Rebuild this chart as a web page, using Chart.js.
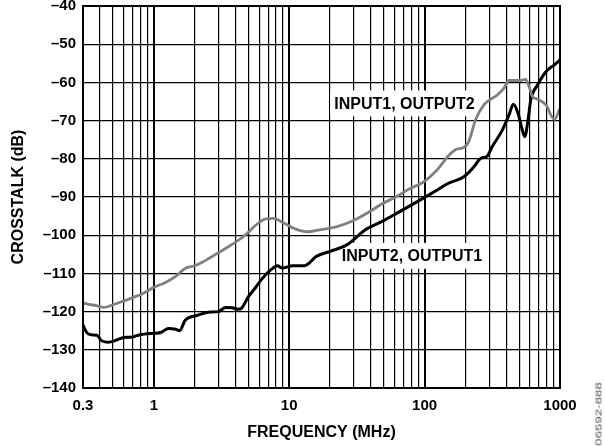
<!DOCTYPE html>
<html>
<head>
<meta charset="utf-8">
<script src="https://cdn.jsdelivr.net/npm/chart.js@4/dist/chart.umd.min.js"></script>
<style>
  html, body { margin: 0; padding: 0; background: #fff; }
  #wrap { position: relative; width: 605px; height: 446px; }
  #code {
    position: absolute; left: 598px; top: 414px;
    font: 9.5px "Liberation Sans", Arial, sans-serif; color: #555;
    white-space: nowrap;
    transform: translate(-50%, -50%) rotate(-90deg) scaleX(1.4);
  }
</style>
</head>
<body>
<div id="wrap">
  <canvas id="chart" width="605" height="446"></canvas>
  <div id="code">06592-888</div>
</div>
<script>
// INPUT1, OUTPUT2 (grey trace)
const freqIn1Out2 = [0.3, 0.33, 0.37, 0.43, 0.5, 0.59, 0.7, 0.8, 0.9, 1.0, 1.2, 1.45, 1.7, 2.0, 2.3, 2.6, 3.0, 3.6, 4.5, 5.0, 5.65, 6.7, 7.73, 8.9, 11.2, 13.7, 16.7, 22.2, 29.6, 39.4, 49, 62, 78, 98, 123, 150, 169, 195, 212, 238, 274, 344, 386, 420, 513, 558, 591, 627, 683, 787, 908, 1000];
const xtalkIn1Out2 = [-117.7, -118.1, -118.4, -118.9, -118.2, -117.3, -116.3, -115.5, -114.6, -113.6, -112.5, -110.8, -108.7, -108.0, -107.0, -105.9, -104.6, -102.9, -100.6, -99.2, -97.4, -95.7, -95.6, -96.6, -98.4, -99.1, -98.6, -97.8, -96.2, -93.8, -91.7, -89.9, -87.8, -86.1, -83.0, -79.2, -77.6, -77.0, -75.5, -69.8, -65.9, -63.3, -61.5, -59.5, -59.5, -59.2, -61.1, -63.7, -64.4, -65.9, -69.7, -66.8];

// INPUT2, OUTPUT1 (black trace)
const freqIn2Out1 = [0.3, 0.32, 0.35, 0.38, 0.41, 0.46, 0.5, 0.55, 0.6, 0.67, 0.75, 0.81, 0.9, 1.0, 1.14, 1.28, 1.45, 1.55, 1.71, 2.1, 2.5, 3.0, 3.4, 3.8, 4.2, 4.45, 5.0, 5.7, 6.2, 7.3, 8.2, 8.9, 10.6, 12.9, 13.7, 15.8, 19.8, 26.4, 37.2, 49, 62, 98, 130, 150, 195, 231, 259, 290, 316, 375, 420, 453, 490, 519, 549, 581, 608, 682, 787, 908, 1000];
const xtalkIn2Out1 = [-123.5, -125.5, -126.1, -126.2, -127.6, -128.0, -127.8, -127.2, -126.8, -126.7, -126.3, -126.0, -125.8, -125.7, -125.4, -124.4, -124.6, -125.0, -122.2, -121.0, -120.2, -120.0, -118.9, -119.0, -119.4, -119.1, -116.1, -113.5, -111.7, -109.1, -108.0, -108.6, -108.0, -108.0, -107.6, -105.6, -104.3, -102.6, -98.4, -96.3, -94.3, -90.3, -87.7, -86.4, -84.7, -82.1, -79.9, -79.3, -76.8, -72.5, -68.5, -65.7, -68.1, -71.6, -74.2, -69.8, -64.6, -60.7, -57.2, -55.4, -54.1];

// axis ticks
const gridFreqs = [0.3, 0.4, 0.5, 0.6, 0.7, 0.8, 0.9, 1, 2, 3, 4, 5, 6, 7, 8, 9, 10, 20, 30, 40, 50, 60, 70, 80, 90, 100, 200, 300, 400, 500, 600, 700, 800, 900, 1000];
const freqTickLabels = [0.3, 1, 10, 100, 1000];
const decadeFreqs = [1, 10, 100, 1000];

// curve labels (anchored in data space)
const curveLabels = ['INPUT1, OUTPUT2', 'INPUT2, OUTPUT1'];
const curveLabelFreq = [71, 80.7];
const curveLabelDb = [-65.5, -105.4];

const FONT = '"Liberation Sans", Arial, Helvetica, sans-serif';

const toPoints = (xs, ys) => xs.map((x, i) => ({ x: x, y: ys[i] }));

const labelPlugin = {
  id: 'curveLabels',
  beforeDatasetsDraw(chart) {
    // white boxes + text sit on the grid, the traces are drawn over them
    const { ctx, scales } = chart;
    ctx.save();
    ctx.font = 'bold 16px ' + FONT;
    ctx.textAlign = 'center';
    ctx.textBaseline = 'middle';
    curveLabels.forEach((text, i) => {
      const cx = scales.x.getPixelForValue(curveLabelFreq[i]);
      const cy = scales.y.getPixelForValue(curveLabelDb[i]);
      const w = ctx.measureText(text).width + 8;
      const h = 26;
      ctx.fillStyle = '#fff';
      ctx.fillRect(cx - w / 2, cy - h / 2, w, h);
      ctx.fillStyle = '#000';
      ctx.fillText(text, cx, cy + 1);
    });
    ctx.restore();
  },
  afterDatasetsDraw(chart) {
    const { ctx, chartArea } = chart;
    ctx.save();
    ctx.strokeStyle = '#000';
    ctx.lineWidth = 2;
    ctx.strokeRect(chartArea.left, chartArea.top, chartArea.right - chartArea.left, chartArea.bottom - chartArea.top);
    ctx.restore();
  }
};

const ctx = document.getElementById('chart').getContext('2d');
const crosstalkChart = new Chart(ctx, {
  type: 'line',
  data: {
    datasets: [
      {
        label: 'INPUT1, OUTPUT2',
        data: toPoints(freqIn1Out2, xtalkIn1Out2),
        borderColor: '#808080',
        borderWidth: 2.8,
        pointRadius: 0,
        cubicInterpolationMode: 'monotone',
        fill: false
      },
      {
        label: 'INPUT2, OUTPUT1',
        data: toPoints(freqIn2Out1, xtalkIn2Out1),
        borderColor: '#000',
        borderWidth: 3,
        pointRadius: 0,
        cubicInterpolationMode: 'monotone',
        fill: false
      }
    ]
  },
  options: {
    responsive: false,
    animation: false,
    devicePixelRatio: 1,
    layout: { padding: { top: 6, right: 45, left: 0, bottom: 0 } },
    plugins: {
      legend: { display: false },
      tooltip: { enabled: false }
    },
    scales: {
      x: {
        type: 'logarithmic',
        min: 0.3,
        max: 1000,
        afterBuildTicks: (scale) => {
          scale.ticks = gridFreqs.map(v => ({ value: v }));
        },
        afterFit: (scale) => {
          scale.height = 58;
          scale.paddingLeft = 0;
          scale.paddingRight = 0;
        },
        border: { display: true, color: '#000', width: 2 },
        grid: {
          color: '#000',
          drawTicks: false,
          lineWidth: (c) => (c.tick && decadeFreqs.includes(c.tick.value)) ? 2 : 1.2
        },
        ticks: {
          autoSkip: false,
          maxRotation: 0,
          minRotation: 0,
          padding: 9,
          color: '#000',
          font: { family: FONT, size: 15, weight: 'bold' },
          callback: (value) => freqTickLabels.includes(value) ? String(value) : ''
        },
        title: {
          display: true,
          text: 'FREQUENCY (MHz)',
          color: '#000',
          font: { family: FONT, size: 16, weight: 'bold' },
          padding: { top: 0, bottom: 4 }
        }
      },
      y: {
        min: -140,
        max: -40,
        afterFit: (scale) => {
          scale.width = 83;
          scale.paddingTop = 0;
          scale.paddingBottom = 0;
        },
        border: { display: true, color: '#000', width: 2 },
        grid: {
          color: '#000',
          drawTicks: false,
          lineWidth: 1.2
        },
        ticks: {
          stepSize: 10,
          padding: 7,
          color: '#000',
          font: { family: FONT, size: 15, weight: 'bold' },
          callback: (v) => v < 0 ? '\u2013' + Math.abs(v) : String(v)
        },
        title: {
          display: true,
          text: 'CROSSTALK (dB)',
          color: '#000',
          font: { family: FONT, size: 16, weight: 'bold' },
          padding: { top: 9, bottom: 0 }
        }
      }
    }
  },
  plugins: [labelPlugin]
});
</script>
</body>
</html>
